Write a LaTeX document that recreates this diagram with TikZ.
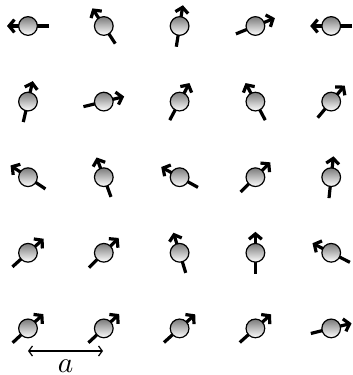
\documentclass[tikz,border=0pt]{standalone}
\usetikzlibrary{arrows.meta}
\begin{document}
\begin{tikzpicture}[x=0.3745pt,y=0.3745pt,
  spin/.style={circle,draw=black,line width=0.45pt,inner sep=0pt,minimum size=7pt,top color=black!52,bottom color=white},
  spinline/.style={line width=1.2pt,-{Straight Barb[length=2pt,width=4.8pt]}},
  dist/.style={line width=0.45pt,{Straight Barb[length=1.4pt,width=3.8pt]}-{Straight Barb[length=1.4pt,width=3.8pt]}}]
\useasboundingbox (0,0) rectangle (353,-375);
\foreach \r/\c/\ang in {
  1/1/180, 1/2/123, 1/3/81, 1/4/22, 1/5/180,
  2/1/77, 2/2/14, 2/3/62, 2/4/118, 2/5/50,
  3/1/146, 3/2/110, 3/3/151, 3/4/45, 3/5/84,
  4/1/42, 4/2/45, 4/3/107, 4/4/90, 4/5/153,
  5/1/43, 5/2/43, 5/3/42, 5/4/42, 5/5/14}{
  \coordinate (p\r\c) at ({28+75.8*(\c-1)},{-26-75.6*(\r-1)});
  \draw[spinline] ([shift={(\ang+180:21)}]p\r\c) -- ([shift={(\ang:21)}]p\r\c);
  \node[spin] (s\r\c) at (p\r\c) {};
}
\coordinate (aL) at (28,-351);
\coordinate (aR) at (103,-351);
\draw[dist] (aL) -- node[below=2.2pt,inner sep=1pt,font=\fontsize{11}{13}\selectfont] (alab) {$a$} (aR);
\end{tikzpicture}
\end{document}
